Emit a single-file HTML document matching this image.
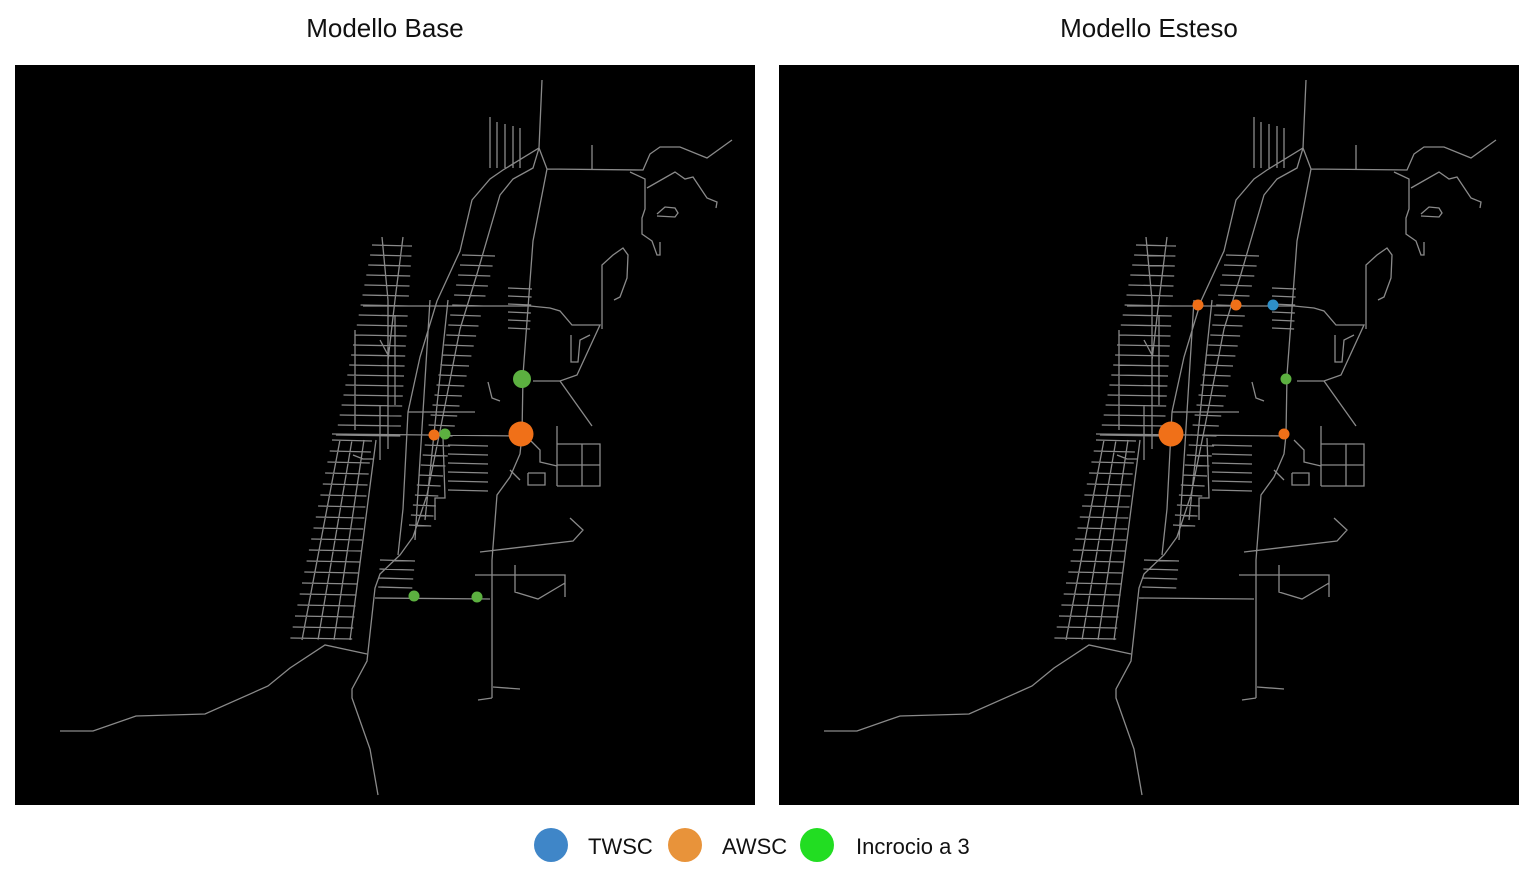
<!DOCTYPE html>
<html><head><meta charset="utf-8"><style>
html,body{margin:0;padding:0;background:#fff;width:1536px;height:873px;overflow:hidden;font-family:"Liberation Sans",sans-serif}
svg{display:block}
</style></head><body>
<svg id="fig" width="1536" height="873" xmlns="http://www.w3.org/2000/svg">
<text x="385" y="37" text-anchor="middle" font-size="26" fill="#111">Modello Base</text>
<text x="1149" y="37" text-anchor="middle" font-size="26" fill="#111">Modello Esteso</text>
<rect x="15" y="65" width="740" height="740" fill="#000"/>
<rect x="779" y="65" width="740" height="740" fill="#000"/>
<g id="netL"></g>
<g id="netR" transform="translate(764,0)"></g>
<g id="marks"></g>
<g>
<circle cx="551" cy="845" r="17" fill="#3f86c8"/>
<text x="588" y="854" font-size="22" fill="#111">TWSC</text>
<circle cx="685" cy="845" r="17" fill="#e8933a"/>
<text x="722" y="854" font-size="22" fill="#111">AWSC</text>
<circle cx="817" cy="845" r="17" fill="#22dd22"/>
<text x="856" y="854" font-size="22" fill="#111">Incrocio a 3</text>
</g>
</svg>
<script>
// marker data (map coordinates in left-panel frame)
const leftX=[522,521,434,445,414,477];
const leftY=[379,434,435,434,596,597];
const leftType=["inc","awsc","awsc","inc","inc","inc"];
const leftSize=[9,12.5,5.5,5.5,5.5,5.5];
const rightX=[434,472,509,522,407,520];
const rightY=[305,305,305,379,434,434];
const rightType=["awsc","awsc","twsc","inc","awsc","awsc"];
const rightSize=[5.5,5.5,5.5,5.5,12.5,5.5];
const colors={twsc:"#2e8fc8",awsc:"#f07018",inc:"#5cb040"};

const NS="http://www.w3.org/2000/svg";
const polys=[
[[60,731],[93,731],[136,716],[205,714],[268,686],[290,668],[325,645],[367,654]],
[[378,795],[370,749],[352,698],[352,689],[367,661],[375,588],[380,574],[400,555],[413,537],[427,495],[440,431],[460,329],[477,274],[500,195],[513,179],[533,168],[539,148],[542,80]],
[[398,555],[403,509],[408,412],[420,357],[437,301],[460,251],[472,200],[490,179],[503,170],[539,148],[547,169]],
[[547,169],[533,241],[523,375],[522,435],[520,454],[510,477],[497,495],[492,560],[492,698]],
[[478,700],[492,698]],[[493,687],[520,689]],
[[547,169],[643,170],[650,154],[660,147],[680,147],[707,158],[732,140]],
[[592,145],[592,169]],
[[630,172],[645,179],[645,209],[642,218],[642,234],[652,241],[657,255],[660,255],[660,242]],
[[647,188],[675,172],[685,179],[693,177],[707,198],[717,202],[716,208]],
[[657,214],[665,207],[675,208],[678,213],[675,217],[657,216]],
[[363,306],[530,306],[550,308],[560,311],[572,325],[600,325],[577,375],[560,381],[533,381]],
[[602,329],[602,297],[602,265],[613,255],[623,248],[628,255],[627,278],[620,297],[614,300]],
[[571,335],[571,362],[578,362],[580,340],[590,335]],
[[332,434],[522,436]],
[[560,381],[592,426]],
[[557,426],[557,486]],[[557,444],[600,444],[600,486],[557,486]],[[582,444],[582,486]],[[557,465],[600,465]],
[[530,440],[540,450],[540,462],[557,466]],
[[528,473],[545,473],[545,485],[528,485],[528,473]],
[[480,552],[573,541],[583,530],[570,518]],
[[475,575],[565,575],[565,597]],
[[515,565],[515,592],[538,599],[565,583]],
[[375,598],[490,599]],
[[443,438],[445,498],[435,498],[435,520]],
[[353,455],[363,459],[373,459]],
[[408,412],[475,412]],[[395,405],[395,315]],
[[488,382],[492,398],[500,401]],
[[380,340],[388,355],[388,370]],
[[510,470],[520,480]]
];
// ladders: [yStart,yEnd,step,xl0,xl1,xr0,xr1]
const ladders=[
[245,440,10,372,335,412,400],
[255,530,10,462,408,495,430],
[440,640,11,332,290,372,352],
[445,492,9,448,448,488,488],
[288,330,8,508,508,532,530],
[560,590,9,380,378,415,412]
];
const verts=[
[[382,237],[388,300],[388,449]],[[403,237],[395,300],[388,360]],
[[340,440],[302,640]],[[352,440],[318,640]],[[364,440],[334,640]],[[376,440],[350,640]],
[[430,300],[415,540]],[[448,300],[425,520]],
[[355,330],[355,430]],[[380,405],[380,460]]
];
function addPath(g,d,name){
  const p=document.createElementNS(NS,'path');
  p.setAttribute('d',d);p.setAttribute('fill','none');p.setAttribute('stroke','#8a8a8a');p.setAttribute('stroke-width','1.3');
  
  
  g.appendChild(p);
}
let d='';
polys.concat(verts).forEach(pl=>{d+='M'+pl.map(p=>p.join(',')).join('L');});
ladders.forEach(l=>{for(let y=l[0];y<=l[1];y+=l[2]){const t=(y-l[0])/(l[1]-l[0]);const xl=l[3]+(l[4]-l[3])*t,xr=l[5]+(l[6]-l[5])*t;d+='M'+xl.toFixed(1)+','+y+'L'+xr.toFixed(1)+','+(y+1);}});
// short stubs north
[[490,117],[497,122],[505,124],[513,126],[520,128]].forEach(p=>{d+='M'+p[0]+','+p[1]+'L'+p[0]+',168';});
addPath(document.getElementById('netL'),d,'streets');
addPath(document.getElementById('netR'),d,'streets');
const mg=document.getElementById('marks');
function drawMarks(xs,ys,ts,ss,off,side){
  xs.forEach((x,i)=>{
    const c=document.createElementNS(NS,'circle');
    c.setAttribute('cx',x+off);c.setAttribute('cy',ys[i]);c.setAttribute('r',ss[i]);c.setAttribute('fill',colors[ts[i]]);
    
    
    mg.appendChild(c);
  });
}
drawMarks(leftX,leftY,leftType,leftSize,0,'left');
drawMarks(rightX,rightY,rightType,rightSize,764,'right');
</script>
</body></html>
